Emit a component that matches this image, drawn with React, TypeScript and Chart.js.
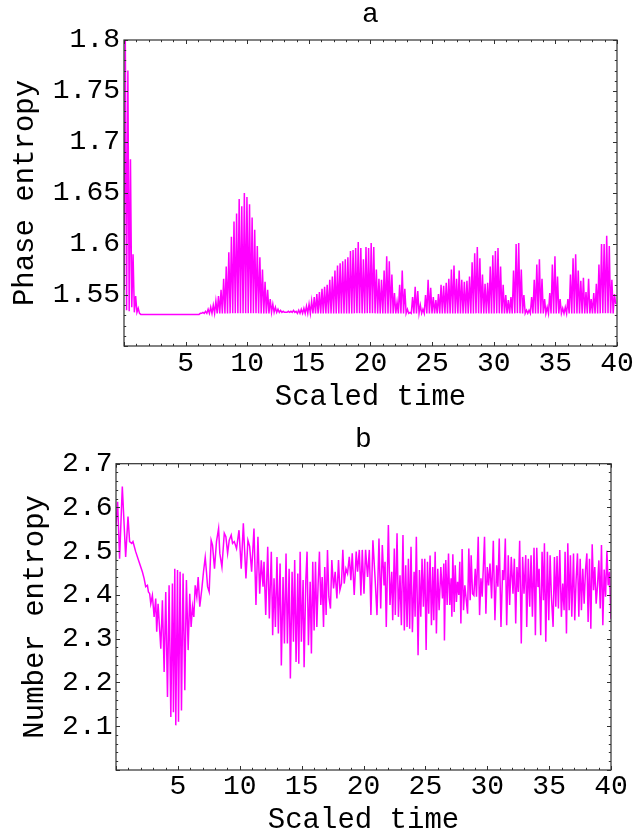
import React, { useEffect, useRef } from "react";
import { Chart, registerables } from "chart.js";

Chart.register(...registerables);

const MONO = "'Liberation Mono', 'DejaVu Sans Mono', monospace";

// ---------- Panel a: phase entropy (sampled every phaseStep of scaled time) ----------
const phaseStep = 0.105;
// local maxima of the oscillation (odd samples)
const phasePeaks = [
  1.800, 1.770, 1.683, 1.590, 1.549, 1.537, 1.531, 1.531, 1.531, 1.531,
  1.531, 1.531, 1.531, 1.531, 1.531, 1.531, 1.531, 1.531, 1.531, 1.531,
  1.531, 1.531, 1.531, 1.531, 1.531, 1.531, 1.531, 1.531, 1.531, 1.532,
  1.533, 1.534, 1.536, 1.538, 1.540, 1.544, 1.549, 1.555, 1.566, 1.578,
  1.592, 1.607, 1.622, 1.630, 1.644, 1.637, 1.650, 1.646, 1.639, 1.626,
  1.614, 1.598, 1.587, 1.575, 1.563, 1.555, 1.546, 1.541, 1.538, 1.536,
  1.535, 1.534, 1.533, 1.534, 1.534, 1.535, 1.534, 1.535, 1.536, 1.537,
  1.539, 1.541, 1.544, 1.548, 1.551, 1.553, 1.556, 1.558, 1.560, 1.565,
  1.568, 1.574, 1.579, 1.581, 1.583, 1.585, 1.587, 1.593, 1.594, 1.596,
  1.602, 1.596, 1.585, 1.597, 1.596, 1.601, 1.597, 1.575, 1.566, 1.565,
  1.574, 1.588, 1.583, 1.570, 1.552, 1.543, 1.560, 1.574, 1.556, 1.536,
  1.533, 1.548, 1.558, 1.554, 1.540, 1.536, 1.550, 1.565, 1.557, 1.548,
  1.545, 1.551, 1.560, 1.559, 1.562, 1.566, 1.575, 1.579, 1.566, 1.574,
  1.565, 1.563, 1.564, 1.568, 1.582, 1.591, 1.597, 1.586, 1.570, 1.561,
  1.562, 1.578, 1.589, 1.593, 1.596, 1.578, 1.560, 1.550, 1.545, 1.548,
  1.574, 1.600, 1.601, 1.575, 1.550, 1.535, 1.535, 1.548, 1.565, 1.580,
  1.585, 1.566, 1.546, 1.538, 1.552, 1.580, 1.588, 1.568, 1.546, 1.537,
  1.538, 1.546, 1.570, 1.586, 1.590, 1.574, 1.564, 1.567, 1.553, 1.566,
  1.546, 1.552, 1.561, 1.580, 1.600, 1.600, 1.608, 1.598, 1.565, 1.551,
];
// local minima of the oscillation (even samples)
const phaseTroughs = [
  1.555, 1.535, 1.534, 1.538, 1.533, 1.533, 1.532, 1.531, 1.531, 1.531,
  1.531, 1.531, 1.531, 1.531, 1.531, 1.531, 1.531, 1.531, 1.531, 1.531,
  1.531, 1.531, 1.531, 1.531, 1.531, 1.531, 1.531, 1.531, 1.531, 1.531,
  1.532, 1.532, 1.532, 1.532, 1.532, 1.532, 1.532, 1.532, 1.532, 1.532,
  1.532, 1.532, 1.532, 1.532, 1.532, 1.532, 1.532, 1.532, 1.532, 1.532,
  1.532, 1.532, 1.532, 1.532, 1.532, 1.532, 1.532, 1.533, 1.533, 1.533,
  1.533, 1.533, 1.533, 1.533, 1.533, 1.533, 1.533, 1.532, 1.532, 1.532,
  1.532, 1.532, 1.532, 1.532, 1.532, 1.532, 1.532, 1.532, 1.532, 1.532,
  1.532, 1.532, 1.532, 1.532, 1.532, 1.532, 1.532, 1.532, 1.532, 1.532,
  1.532, 1.532, 1.532, 1.532, 1.532, 1.532, 1.532, 1.532, 1.532, 1.532,
  1.532, 1.532, 1.532, 1.532, 1.532, 1.532, 1.532, 1.532, 1.532, 1.532,
  1.532, 1.532, 1.532, 1.532, 1.532, 1.532, 1.532, 1.532, 1.532, 1.532,
  1.532, 1.532, 1.532, 1.532, 1.532, 1.532, 1.532, 1.532, 1.532, 1.532,
  1.532, 1.532, 1.532, 1.532, 1.532, 1.532, 1.532, 1.532, 1.532, 1.532,
  1.532, 1.532, 1.532, 1.532, 1.532, 1.532, 1.532, 1.532, 1.532, 1.532,
  1.532, 1.532, 1.532, 1.532, 1.532, 1.532, 1.532, 1.532, 1.532, 1.532,
  1.532, 1.532, 1.532, 1.532, 1.532, 1.532, 1.532, 1.532, 1.532, 1.532,
  1.532, 1.532, 1.532, 1.532, 1.532, 1.532, 1.532, 1.532, 1.532, 1.532,
  1.532, 1.532, 1.532, 1.532, 1.532, 1.532, 1.532, 1.532, 1.532, 1.532,
  1.541,
];

// ---------- Panel b: number entropy, [scaled time, entropy] readings ----------
const numberEntropyPoints: [number, number][] = [
  [0.00, 2.560], [0.13, 2.613], [0.29, 2.483], [0.51, 2.648], [0.78, 2.487], [0.97, 2.579],
  [1.10, 2.522], [1.27, 2.518], [1.37, 2.522], [1.59, 2.499], [1.86, 2.476], [2.13, 2.453],
  [2.27, 2.438], [2.40, 2.419], [2.54, 2.422], [2.62, 2.407], [2.72, 2.403], [2.81, 2.380],
  [2.94, 2.399], [3.08, 2.350], [3.21, 2.392], [3.29, 2.316], [3.40, 2.380], [3.62, 2.277],
  [3.75, 2.388], [3.89, 2.224], [4.02, 2.407], [4.16, 2.167], [4.29, 2.422], [4.43, 2.121],
  [4.56, 2.426], [4.64, 2.132], [4.75, 2.460], [4.83, 2.102], [4.97, 2.457], [5.05, 2.110],
  [5.18, 2.453], [5.29, 2.136], [5.42, 2.449], [5.56, 2.182], [5.69, 2.434], [5.83, 2.274],
  [5.96, 2.403], [6.07, 2.327], [6.18, 2.373], [6.29, 2.350], [6.40, 2.422], [6.53, 2.396],
  [6.64, 2.441], [6.77, 2.373], [6.94, 2.415], [7.07, 2.453], [7.21, 2.486], [7.31, 2.453],
  [7.40, 2.419], [7.53, 2.407], [7.69, 2.525], [7.80, 2.514], [7.96, 2.460], [8.12, 2.522],
  [8.29, 2.552], [8.39, 2.495], [8.56, 2.464], [8.75, 2.541], [8.88, 2.533], [9.02, 2.495],
  [9.15, 2.525], [9.31, 2.537], [9.42, 2.518], [9.56, 2.522], [9.74, 2.506], [9.94, 2.548],
  [10.12, 2.460], [10.29, 2.564], [10.50, 2.438], [10.66, 2.525], [10.80, 2.511], [10.96, 2.453],
  [11.15, 2.552], [11.31, 2.377], [11.47, 2.533], [11.61, 2.403], [11.74, 2.479], [11.88, 2.419],
  [11.96, 2.476], [12.10, 2.354], [12.26, 2.510], [12.39, 2.346], [12.55, 2.499], [12.66, 2.308],
  [12.77, 2.438], [12.88, 2.327], [13.01, 2.487], [13.12, 2.312], [13.26, 2.472], [13.36, 2.239],
  [13.50, 2.441], [13.61, 2.289], [13.74, 2.495], [13.85, 2.289], [13.99, 2.460], [14.09, 2.209],
  [14.23, 2.453], [14.34, 2.293], [14.44, 2.480], [14.55, 2.247], [14.69, 2.449], [14.77, 2.243],
  [14.88, 2.499], [14.98, 2.293], [15.12, 2.434], [15.20, 2.235], [15.34, 2.434], [15.44, 2.499],
  [15.55, 2.285], [15.69, 2.430], [15.79, 2.266], [15.90, 2.476], [16.01, 2.319], [16.12, 2.476],
  [16.23, 2.327], [16.33, 2.422], [16.44, 2.499], [16.55, 2.377], [16.66, 2.441], [16.77, 2.327],
  [16.87, 2.464], [16.98, 2.354], [17.09, 2.503], [17.20, 2.396], [17.33, 2.369], [17.44, 2.480],
  [17.58, 2.415], [17.71, 2.453], [17.85, 2.392], [17.98, 2.480], [18.09, 2.411], [18.22, 2.426],
  [18.33, 2.503], [18.44, 2.426], [18.58, 2.460], [18.71, 2.449], [18.85, 2.487], [18.98, 2.434],
  [19.09, 2.495], [19.25, 2.400], [19.41, 2.499], [19.52, 2.453], [19.66, 2.503], [19.79, 2.399],
  [19.90, 2.503], [20.04, 2.403], [20.17, 2.503], [20.33, 2.441], [20.47, 2.503], [20.60, 2.354],
  [20.76, 2.525], [20.93, 2.441], [21.09, 2.354], [21.25, 2.529], [21.39, 2.369], [21.52, 2.514],
  [21.66, 2.422], [21.74, 2.476], [21.84, 2.327], [22.01, 2.560], [22.14, 2.377], [22.28, 2.453],
  [22.36, 2.342], [22.49, 2.506], [22.57, 2.354], [22.71, 2.541], [22.82, 2.350], [22.95, 2.445],
  [23.06, 2.331], [23.19, 2.537], [23.30, 2.319], [23.41, 2.468], [23.52, 2.327], [23.63, 2.483],
  [23.73, 2.323], [23.84, 2.510], [23.95, 2.315], [24.09, 2.453], [24.17, 2.350], [24.27, 2.533],
  [24.41, 2.262], [24.52, 2.457], [24.63, 2.350], [24.73, 2.483], [24.84, 2.373], [24.95, 2.483],
  [25.06, 2.274], [25.17, 2.476], [25.27, 2.357], [25.38, 2.490], [25.49, 2.331], [25.60, 2.464],
  [25.68, 2.342], [25.79, 2.499], [25.89, 2.312], [26.00, 2.460], [26.11, 2.365], [26.25, 2.464],
  [26.38, 2.392], [26.49, 2.472], [26.54, 2.296], [26.65, 2.480], [26.76, 2.377], [26.87, 2.495],
  [26.97, 2.377], [27.08, 2.438], [27.14, 2.350], [27.22, 2.493], [27.33, 2.361], [27.41, 2.468],
  [27.51, 2.384], [27.60, 2.430], [27.70, 2.400], [27.78, 2.476], [27.87, 2.335], [27.97, 2.505],
  [28.08, 2.365], [28.19, 2.422], [28.41, 2.357], [28.51, 2.506], [28.62, 2.388], [28.70, 2.491],
  [28.81, 2.403], [28.92, 2.399], [29.03, 2.460], [29.13, 2.396], [29.27, 2.533], [29.38, 2.354],
  [29.49, 2.438], [29.59, 2.396], [29.78, 2.533], [29.89, 2.357], [30.00, 2.464], [30.11, 2.422],
  [30.22, 2.472], [30.35, 2.392], [30.49, 2.524], [30.62, 2.342], [30.76, 2.468], [30.86, 2.419],
  [30.97, 2.529], [31.11, 2.327], [31.24, 2.457], [31.35, 2.434], [31.46, 2.529], [31.57, 2.331],
  [31.70, 2.491], [31.81, 2.377], [31.94, 2.487], [32.08, 2.403], [32.19, 2.483], [32.30, 2.335],
  [32.40, 2.464], [32.51, 2.407], [32.62, 2.524], [32.75, 2.289], [32.86, 2.487], [32.97, 2.403],
  [33.11, 2.491], [33.19, 2.327], [33.32, 2.483], [33.43, 2.373], [33.54, 2.491], [33.65, 2.350],
  [33.78, 2.508], [33.89, 2.308], [34.00, 2.508], [34.10, 2.418], [34.19, 2.460], [34.32, 2.308],
  [34.43, 2.499], [34.54, 2.388], [34.62, 2.518], [34.73, 2.293], [34.86, 2.499], [34.97, 2.342],
  [35.08, 2.491], [35.18, 2.399], [35.32, 2.327], [35.43, 2.487], [35.54, 2.373], [35.64, 2.489],
  [35.75, 2.369], [35.86, 2.503], [35.99, 2.350], [36.10, 2.426], [36.21, 2.365], [36.29, 2.499],
  [36.40, 2.312], [36.51, 2.518], [36.62, 2.365], [36.72, 2.491], [36.83, 2.350], [36.97, 2.495],
  [37.07, 2.342], [37.18, 2.434], [37.29, 2.495], [37.40, 2.350], [37.51, 2.483], [37.61, 2.365],
  [37.72, 2.460], [37.83, 2.380], [37.94, 2.457], [38.05, 2.495], [38.15, 2.338], [38.26, 2.483],
  [38.37, 2.323], [38.48, 2.516], [38.59, 2.411], [38.69, 2.464], [38.80, 2.380], [38.91, 2.422],
  [39.02, 2.479], [39.13, 2.369], [39.23, 2.514], [39.34, 2.331], [39.45, 2.458], [39.56, 2.396],
  [39.67, 2.501], [39.77, 2.422], [39.88, 2.453], [40.00, 2.345],
];

// ---------- axes ----------
const timeTickValues = [5, 10, 15, 20, 25, 30, 35, 40];
const phaseTickValues = [1.55, 1.6, 1.65, 1.7, 1.75, 1.8];
const numberTickValues = [2.1, 2.2, 2.3, 2.4, 2.5, 2.6, 2.7];

function buildPhaseData() {
  const out: { x: number; y: number }[] = [];
  for (let k = 0; k < phaseTroughs.length; k++) {
    out.push({ x: 2 * k * phaseStep, y: phaseTroughs[k] });
    if (k < phasePeaks.length) out.push({ x: (2 * k + 1) * phaseStep, y: phasePeaks[k] });
  }
  return out;
}

const framePlugin = {
  id: "mmaFrame",
  afterDatasetsDraw(chart: any, _args: any, opts: any) {
    const { ctx, chartArea: a } = chart;
    const xs = chart.scales.x;
    const ys = chart.scales.y;
    ctx.save();
    ctx.strokeStyle = "#303030";
    ctx.lineWidth = 1;
    ctx.beginPath();
    const majLen = 4;
    const minLen = 2.2;
    const nX = Math.round((xs.max - xs.min) / opts.xMinor);
    for (let i = 0; i <= nX; i++) {
      const v = xs.min + i * opts.xMinor;
      const r = v / opts.xMajor;
      const len = Math.abs(r - Math.round(r)) < 1e-6 ? majLen : minLen;
      const px = Math.round(xs.getPixelForValue(v)) + 0.5;
      ctx.moveTo(px, a.top);
      ctx.lineTo(px, a.top + len);
      ctx.moveTo(px, a.bottom);
      ctx.lineTo(px, a.bottom - len);
    }
    const nY = Math.round((ys.max - ys.min) / opts.yMinor);
    for (let i = 0; i <= nY; i++) {
      const v = ys.min + i * opts.yMinor;
      const r = (v - ys.min) / opts.yMajor;
      const len = Math.abs(r - Math.round(r)) < 1e-6 ? majLen : minLen;
      const py = Math.round(ys.getPixelForValue(v)) + 0.5;
      ctx.moveTo(a.left, py);
      ctx.lineTo(a.left + len, py);
      ctx.moveTo(a.right, py);
      ctx.lineTo(a.right - len, py);
    }
    ctx.stroke();
    ctx.lineWidth = 1.2;
    ctx.strokeRect(a.left, a.top, a.right - a.left, a.bottom - a.top);
    ctx.restore();
  },
};

type Panel = {
  title: string;
  titlePad: { top: number; bottom: number };
  yWidth: number;
  xHeight: number;
  padRight: number;
  yMin: number;
  yMax: number;
  yTicks: number[];
  yMajor: number;
  yMinor: number;
  yTitle: string;
  yTitlePadTop: number;
  xTitlePadBottom: number;
  yTickPad: number;
  xTickPad: number;
  data: { x: number; y: number }[];
};

function makeConfig(p: Panel): any {
  const fmt = (v: any) => String(+Number(v).toFixed(3));
  return {
    type: "line",
    data: {
      datasets: [
        {
          data: p.data,
          borderColor: "#ff00ff",
          borderWidth: 1.5,
          pointRadius: 0,
          fill: false,
          tension: 0,
        },
      ],
    },
    plugins: [framePlugin],
    options: {
      responsive: false,
      animation: false,
      events: [],
      layout: { padding: { left: 0, right: p.padRight, top: 0, bottom: 0 } },
      plugins: {
        legend: { display: false },
        tooltip: { enabled: false },
        title: {
          display: true,
          text: p.title,
          fullSize: false,
          color: "#000",
          font: { family: MONO, size: 28, weight: "normal", lineHeight: 1 },
          padding: p.titlePad,
        },
        mmaFrame: { xMajor: 5, xMinor: 1, yMajor: p.yMajor, yMinor: p.yMinor },
      },
      scales: {
        x: {
          type: "linear",
          min: 0,
          max: 40,
          grid: { display: false, drawTicks: false },
          border: { display: false },
          afterBuildTicks: (s: any) => {
            s.ticks = timeTickValues.map((v) => ({ value: v }));
          },
          afterFit: (s: any) => {
            s.height = p.xHeight;
          },
          ticks: {
            autoSkip: false,
            maxRotation: 0,
            minRotation: 0,
            padding: p.xTickPad,
            color: "#000",
            font: { family: MONO, size: 28, lineHeight: 1 },
            callback: fmt,
          },
          title: {
            display: true,
            text: "Scaled time",
            color: "#000",
            font: { family: MONO, size: 29, lineHeight: 1 },
            padding: { top: 0, bottom: p.xTitlePadBottom },
          },
        },
        y: {
          type: "linear",
          min: p.yMin,
          max: p.yMax,
          grid: { display: false, drawTicks: false },
          border: { display: false },
          afterBuildTicks: (s: any) => {
            s.ticks = p.yTicks.map((v) => ({ value: v }));
          },
          afterFit: (s: any) => {
            s.width = p.yWidth;
          },
          ticks: {
            autoSkip: false,
            padding: p.yTickPad,
            color: "#000",
            font: { family: MONO, size: 28, lineHeight: 1 },
            callback: fmt,
          },
          title: {
            display: true,
            text: p.yTitle,
            color: "#000",
            font: { family: MONO, size: 29, lineHeight: 1 },
            padding: { top: p.yTitlePadTop, bottom: 0 },
          },
        },
      },
    },
  };
}

export default function App() {
  const refA = useRef<HTMLCanvasElement | null>(null);
  const refB = useRef<HTMLCanvasElement | null>(null);

  useEffect(() => {
    const charts: Chart[] = [];
    if (refA.current) {
      charts.push(
        new Chart(
          refA.current,
          makeConfig({
            title: "a",
            titlePad: { top: 1, bottom: 11 },
            yWidth: 124,
            xHeight: 73,
            padRight: 18,
            yMin: 1.5,
            yMax: 1.8,
            yTicks: phaseTickValues,
            yMajor: 0.05,
            yMinor: 0.01,
            yTitle: "Phase entropy",
            yTitlePadTop: 10.8,
            xTitlePadBottom: 7.2,
            yTickPad: 4,
            xTickPad: 3.2,
            data: buildPhaseData(),
          })
        )
      );
    }
    if (refB.current) {
      charts.push(
        new Chart(
          refB.current,
          makeConfig({
            title: "b",
            titlePad: { top: 6.6, bottom: 10.1 },
            yWidth: 116,
            xHeight: 68,
            padRight: 26,
            yMin: 2.0,
            yMax: 2.7,
            yTicks: numberTickValues,
            yMajor: 0.1,
            yMinor: 0.02,
            yTitle: "Number entropy",
            yTitlePadTop: 21.1,
            xTitlePadBottom: 3.2,
            yTickPad: 3.5,
            xTickPad: 3,
            data: numberEntropyPoints.map(([t, v]) => ({ x: t, y: v })),
          })
        )
      );
    }
    return () => charts.forEach((c) => c.destroy());
  }, []);

  return (
    <div style={{ position: "absolute", left: 0, top: 0, width: 637, height: 838, background: "#fff" }}>
      <canvas ref={refA} width={637} height={419} style={{ display: "block", width: 637, height: 419 }} />
      <canvas ref={refB} width={637} height={419} style={{ display: "block", width: 637, height: 419 }} />
    </div>
  );
}
